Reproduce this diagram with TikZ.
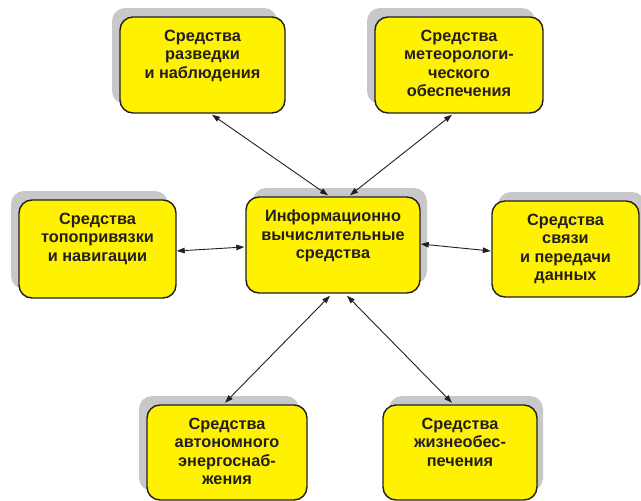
\documentclass[tikz,border=0pt]{standalone}
\usepackage{fontspec}
\setmainfont{Liberation Sans}
\usetikzlibrary{arrows.meta}
\definecolor{boxyellow}{HTML}{FFF200}
\definecolor{shadowgray}{HTML}{C8C8CA}
\definecolor{inkdark}{HTML}{231F20}
\tikzset{
  box/.style={draw=inkdark, line width=1.4pt, fill=boxyellow, rounded corners=13pt,
    inner sep=0pt, minimum width=#1},
  shadowbox/.style={fill=shadowgray, rounded corners=13pt, inner sep=0pt, draw=none},
  lbl/.style={font=\bfseries\fontsize{16.3}{18.5}\selectfont, align=center, inner sep=0pt,
    anchor=north, text=inkdark},
  link/.style={draw=inkdark, line width=0.9pt, {Triangle[length=8pt,width=5.5pt]}-{Triangle[length=8pt,width=5.5pt]}}
}
\newcommand{\mkbox}[8]{%
  % #1 name, #2 cx, #3 cy, #4 w, #5 h, #6 shadow dx, #7 shadow dy, #8 text
  \node[shadowbox, minimum width=#4pt, minimum height=#5pt] (#1s) at (#2+#6,#3+#7) {};
  \node[box=#4pt, minimum height=#5pt] (#1) at (#2,#3) {};
  \node[lbl] (#1t) at ([yshift=-13.5pt]#1.north) {#8};
}
\begin{document}
\begin{tikzpicture}[x=1pt,y=-1pt]
\useasboundingbox (0,0) rectangle (641,501);
\mkbox{tl}{202.5}{65}{165}{96}{-8}{-9}{Средства\\разведки\\и наблюдения}
\mkbox{tr}{459}{65}{168}{96}{-8}{-9}{Средства\\метеорологи-\\ческого\\обеспечения}
\mkbox{l}{97.5}{249}{157}{98}{-8}{-9}{Средства\\топопривязки\\и навигации}
\mkbox{c}{333}{245}{174}{96}{7}{-9}{Информационно\\вычислительные\\средства}
\mkbox{r}{565.5}{249}{147}{96}{6}{-9}{Средства\\связи\\и передачи\\данных}
\mkbox{bl}{227}{452.5}{160}{95}{-8}{-9}{Средства\\автономного\\энергоснаб-\\жения}
\mkbox{br}{460}{452.5}{154}{95}{6}{-9}{Средства\\жизнеобес-\\печения}
\draw[link] ([xshift=9.5pt,yshift=-1pt]tl.south) -- ([xshift=-5pt,yshift=1pt]c.north);
\draw[link] ([xshift=-7pt,yshift=-1pt]tr.south) -- ([xshift=17pt,yshift=1pt]c.north);
\draw[link] ([yshift=-2pt]l.east) -- ([yshift=-2pt,xshift=-1pt]c.west);
\draw[link] ([yshift=1pt]c.east) -- ([yshift=-2pt,xshift=-0.5pt]r.west);
\draw[link] ([xshift=-3pt,yshift=-2pt]c.south) -- ([xshift=-2pt,yshift=1.5pt]bl.north);
\draw[link] ([xshift=14pt,yshift=-2pt]c.south) -- ([xshift=-8pt,yshift=1.5pt]br.north);
\end{tikzpicture}
\end{document}
